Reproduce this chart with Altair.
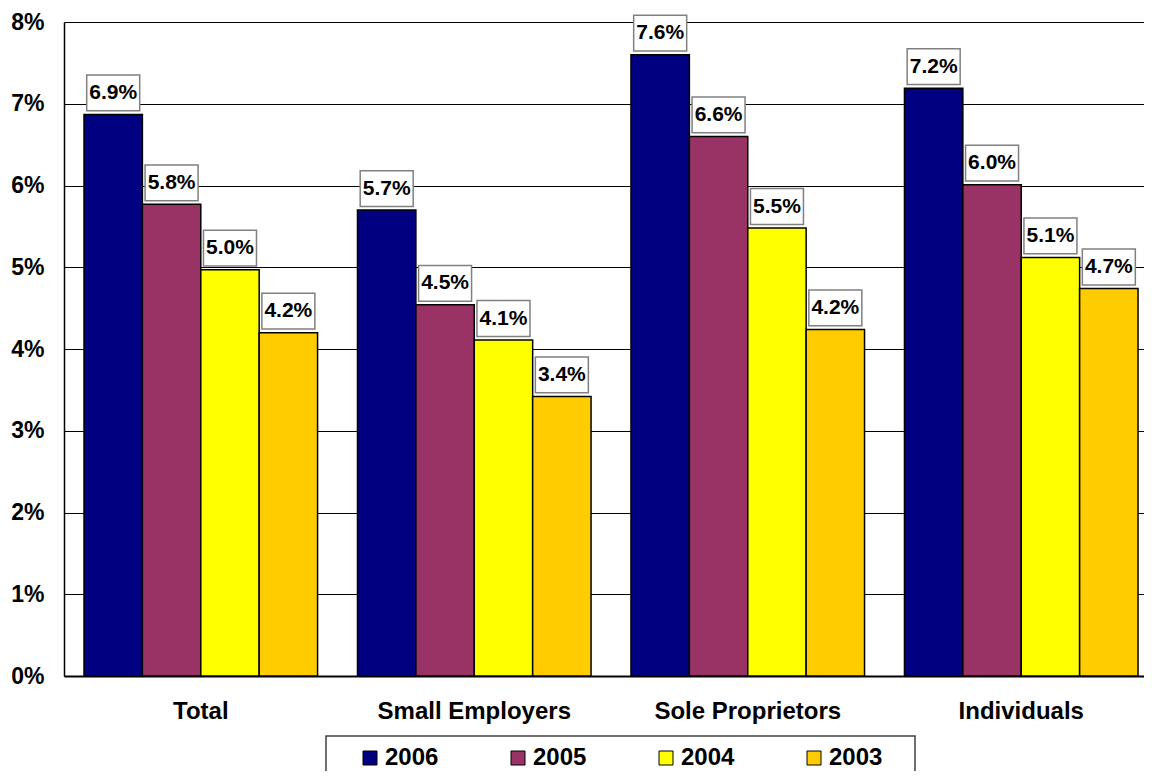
import altair as alt
import pandas as pd

categories = ["Total", "Small Employers", "Sole Proprietors", "Individuals"]
years = ["2006", "2005", "2004", "2003"]
colors = ["#000080", "#993366", "#FFFF00", "#FFCC00"]

v2006 = [6.87, 5.70, 7.60, 7.19]
v2005 = [5.77, 4.54, 6.60, 6.01]
v2004 = [4.97, 4.11, 5.48, 5.12]
v2003 = [4.20, 3.42, 4.24, 4.74]

l2006 = ["6.9%", "5.7%", "7.6%", "7.2%"]
l2005 = ["5.8%", "4.5%", "6.6%", "6.0%"]
l2004 = ["5.0%", "4.1%", "5.5%", "5.1%"]
l2003 = ["4.2%", "3.4%", "4.2%", "4.7%"]

y_ticks = [0, 1, 2, 3, 4, 5, 6, 7, 8]

rows = []
for yr, vals, labs in zip(years, [v2006, v2005, v2004, v2003], [l2006, l2005, l2004, l2003]):
    for c, v, l in zip(categories, vals, labs):
        rows.append({"cat": c, "year": yr, "value": v, "label": l})
df = pd.DataFrame(rows)

FONT = "Liberation Sans"

x_enc = alt.X(
    "cat:N", sort=categories,
    scale=alt.Scale(paddingInner=0.146, paddingOuter=0.0475, align=0.77),
    axis=alt.Axis(title=None, labelAngle=0, labelFontSize=24, labelFont=FONT,
                  labelFontWeight="bold", labelColor="black", labelPadding=23,
                  labelLimit=500, ticks=False, tickSize=0, domainColor="black",
                  domainWidth=2, grid=False),
)
xoff_enc = alt.XOffset("year:N", sort=years,
                       scale=alt.Scale(paddingInner=0, paddingOuter=0))
y_enc = alt.Y(
    "value:Q",
    scale=alt.Scale(domain=[0, 8], nice=False),
    axis=alt.Axis(values=y_ticks, labelExpr="datum.value + '%'", title=None,
                  grid=True, gridColor="black", gridWidth=1,
                  domainColor="black", domainWidth=1.5,
                  ticks=False, tickSize=0, labelFontSize=23, labelFont=FONT,
                  labelFontWeight="bold", labelColor="black", labelPadding=20),
)

base = alt.Chart(df)

bars = base.mark_bar(stroke="black", strokeWidth=1.5).encode(
    x=x_enc, xOffset=xoff_enc, y=y_enc,
    color=alt.Color(
        "year:N",
        scale=alt.Scale(domain=years, range=colors),
        legend=alt.Legend(
            orient="none", legendX=294, legendY=724, direction="horizontal",
            columns=4, title=None, symbolType="square", symbolSize=196,
            symbolStrokeColor="black", symbolStrokeWidth=1, symbolOpacity=1,
            labelFontSize=24, labelFont=FONT, labelFontWeight="bold",
            labelColor="black", labelOffset=3, columnPadding=67, padding=0,
            labelLimit=200,
        ),
    ),
)

boxes = base.mark_point(
    shape="M-1,-0.675L1,-0.675L1,0.675L-1,0.675Z", size=2809, filled=True,
    fill="white", stroke="#808080", strokeWidth=1.5, opacity=1, yOffset=-21.5,
).encode(x=x_enc, xOffset=xoff_enc, y=y_enc)

texts = base.mark_text(
    dy=-21.5, fontSize=21, fontWeight="bold", font=FONT, color="black",
    baseline="middle", align="center",
).encode(x=x_enc, xOffset=xoff_enc, y=y_enc, text="label:N")

frame = alt.Chart(pd.DataFrame({"a": [0]})).mark_rect(
    fill="transparent", stroke="#404040", strokeWidth=1.5,
).encode(x=alt.value(262), x2=alt.value(851), y=alt.value(714), y2=alt.value(775))

chart = alt.layer(bars, boxes, texts, frame).properties(
    width=1080, height=654,
    autosize=alt.AutoSizeParams(type="none"),
    padding={"left": 56, "top": 14, "right": 0, "bottom": 95},
).configure_view(stroke=None).configure(background="white")

chart.save("out.html", embed_options={"renderer": "svg", "actions": False})
